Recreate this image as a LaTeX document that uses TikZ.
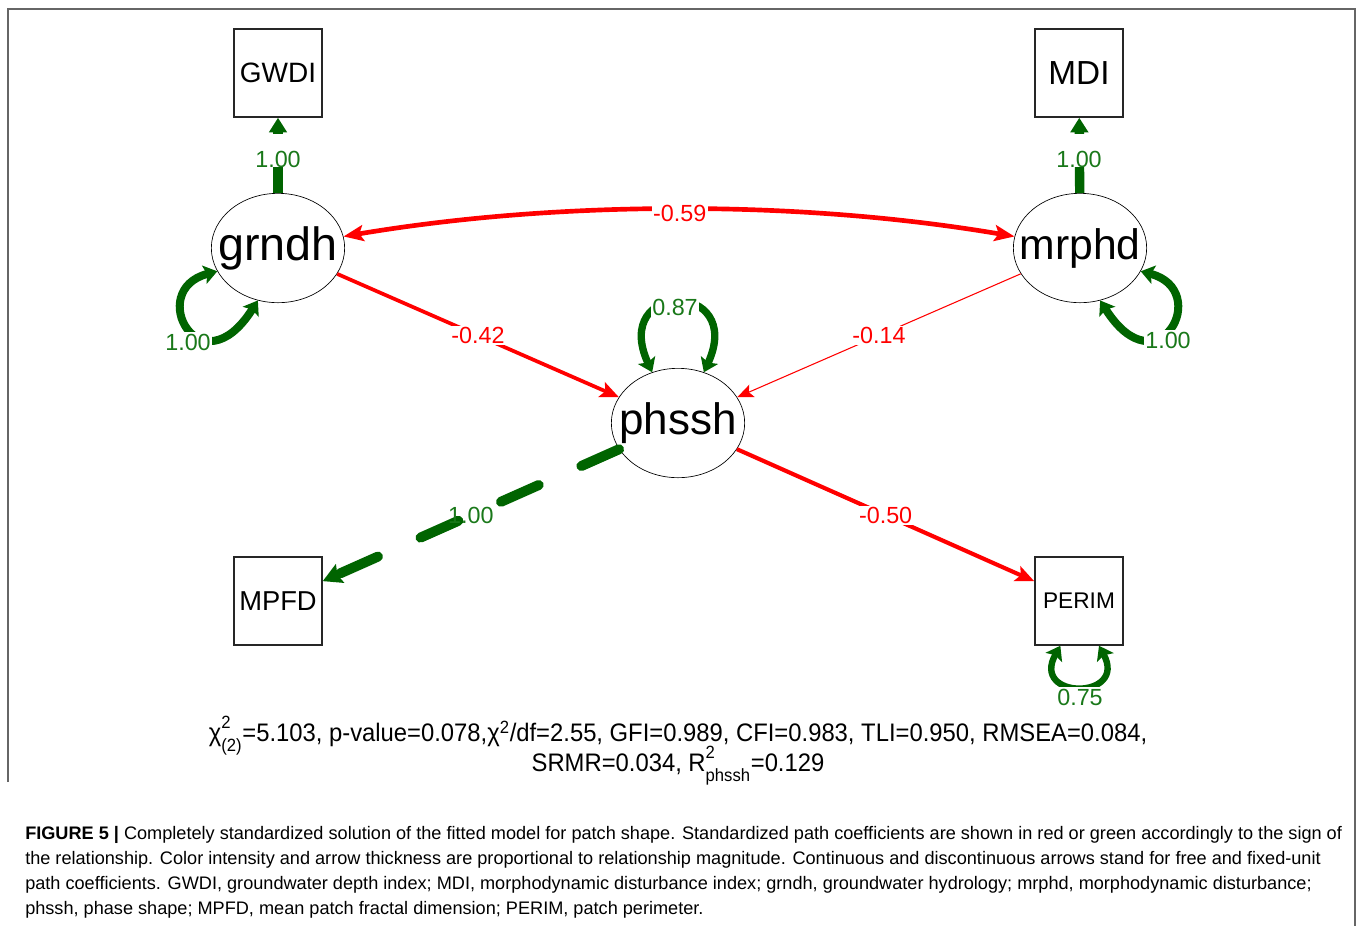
\documentclass[tikz,border=0pt]{standalone}
\usepackage{fontspec}
\setmainfont{Liberation Sans}
\newfontfamily\fitfont[FakeStretch=0.94]{Liberation Sans}
\usetikzlibrary{arrows.meta,shapes.geometric,positioning}

\definecolor{negred}{RGB}{255,0,0}
\definecolor{posgreen}{RGB}{0,100,0}
\definecolor{labgreen}{RGB}{25,120,25}

\newcommand\supsub[2]{\rlap{\smash{\raisebox{0.35ex}{\textsuperscript{#1}}}}\smash{\raisebox{-0.35ex}{\textsubscript{#2}}}}

\tikzset{
  manifest/.style={draw=black!85, line width=1.1pt, minimum size=66pt, inner sep=0pt},
  latent/.style={ellipse, draw=black, line width=0.5pt, minimum width=100pt, minimum height=82pt, inner sep=0pt},
  negline/.style={draw=negred, -{Stealth[length=14pt,width=12pt,inset=3pt]}},
  loopline/.style={draw=posgreen, {Stealth[length=10pt,width=14pt,inset=2pt]}-{Stealth[length=10pt,width=14pt,inset=2pt]}},
  coef/.style={fill=white, inner sep=1pt, font=\fontsize{17.5}{18}\selectfont},
  neglab/.style={coef, text=negred},
  poslab/.style={coef, text=labgreen}
}

\begin{document}
\begin{tikzpicture}[x=0.75pt,y=-0.75pt]
\useasboundingbox (0,0) rectangle (1358,926);
\draw[black!60, line width=1.1pt] (8,782) -- (8,9) -- (1355,9) -- (1355,926);

% observed indicators
\node[manifest, font=\fontsize{21}{21}\selectfont] (GWDI) at (278,73) {GWDI};
\node[manifest, font=\fontsize{25}{25}\selectfont] (MDI) at (1079,73) {MDI};
\node[manifest, font=\fontsize{20.5}{21}\selectfont] (MPFD) at (278,601) {MPFD};
\node[manifest, font=\fontsize{17}{17}\selectfont] (PERIM) at (1079,601) {PERIM};

% latent factors
\node[latent, label={[font=\fontsize{35}{35}\selectfont]center:grndh}] (grndh) at (278,248) {};
\node[latent, label={[font=\fontsize{32}{32}\selectfont]center:mrphd}] (mrphd) at (1080,248) {};
\node[latent, label={[font=\fontsize{33}{33}\selectfont]center:phssh}] (phssh) at (678,423) {};

% loadings
\draw[posgreen, line width=7pt, -{Triangle[length=11pt,width=13pt]}] (grndh) -- (GWDI);
\draw[posgreen, line width=7pt, -{Triangle[length=11pt,width=13pt]}] (mrphd) -- (MDI);
\node[poslab, anchor=base, inner sep=0pt, text height=25pt, text depth=0pt] (lGWDI) at (278,167) {1.00};
\node[poslab, anchor=base, inner sep=0pt, text height=25pt, text depth=0pt] (lMDI) at (1079,167) {1.00};
\draw[posgreen, line width=7.5pt, line cap=round, dash pattern=on 31pt off 35pt, -{Stealth[length=14pt,width=15pt,inset=2pt]}] (phssh) -- (MPFD)
  node[pos=.5, text=labgreen, font=\fontsize{17.5}{18}\selectfont] {1.00};
\draw[negline, line width=3.1pt] (phssh) -- (PERIM) node[neglab, pos=.5] {-0.50};

% regressions and covariance
\draw[negline, line width=2.8pt] (grndh) -- (phssh) node[neglab, pos=.5] {-0.42};
\draw[negline, line width=0.8pt, -{Stealth[length=12pt,width=10pt,inset=2.5pt]}] (mrphd) -- (phssh) node[neglab, pos=.5] {-0.14};
\draw[negred, line width=3.5pt, {Stealth[length=15pt,width=12pt,inset=3pt]}-{Stealth[length=15pt,width=12pt,inset=3pt]}]
  (grndh.10) .. controls (560,200) and (800,200) .. (mrphd.170) node[neglab, pos=.5, yshift=-3pt] {-0.59};

% variances
\draw[loopline, line width=6pt] (grndh.201) .. controls (145,290) and (200,392) .. (grndh.249);
\draw[loopline, line width=6pt] (mrphd.339) .. controls (1213,290) and (1158,392) .. (mrphd.291);
\draw[loopline, line width=5.5pt] (phssh.117) .. controls (610,280) and (746,280) .. (phssh.63);
\draw[loopline, line width=4.8pt] ([xshift=-14pt]PERIM.south) .. controls (1030,700) and (1128,700) .. ([xshift=15pt]PERIM.south);
\node[poslab] (vgrndh) at (188,342) {1.00};
\node[poslab] (vmrphd) at (1168,340) {1.00};
\node[poslab] (vphssh) at (675,307) {0.87};
\node[poslab] (vPERIM) at (1080,697) {0.75};

% fit indices
\node[align=center, font=\fitfont\fontsize{19}{22.5}\selectfont] (fit) at (678,748)
  {χ\supsub{2}{(2)}=5.103, p-value=0.078,χ\textsuperscript{2}/df=2.55, GFI=0.989, CFI=0.983, TLI=0.950, RMSEA=0.084,\\
   SRMR=0.034, R\supsub{2}{phssh}=0.129};

\node[anchor=north west, align=left, inner sep=0pt, font=\fontsize{13.6}{18.75}\selectfont] (caption) at (25,826)
  {\textbf{FIGURE 5 |} Completely standardized solution of the fitted model for patch shape. Standardized path coefficients are shown in red or green accordingly to the sign of\\
   the relationship. Color intensity and arrow thickness are proportional to relationship magnitude. Continuous and discontinuous arrows stand for free and fixed-unit\\
   path coefficients. GWDI, groundwater depth index; MDI, morphodynamic disturbance index; grndh, groundwater hydrology; mrphd, morphodynamic disturbance;\\
   phssh, phase shape; MPFD, mean patch fractal dimension; PERIM, patch perimeter.};
\end{tikzpicture}
\end{document}
